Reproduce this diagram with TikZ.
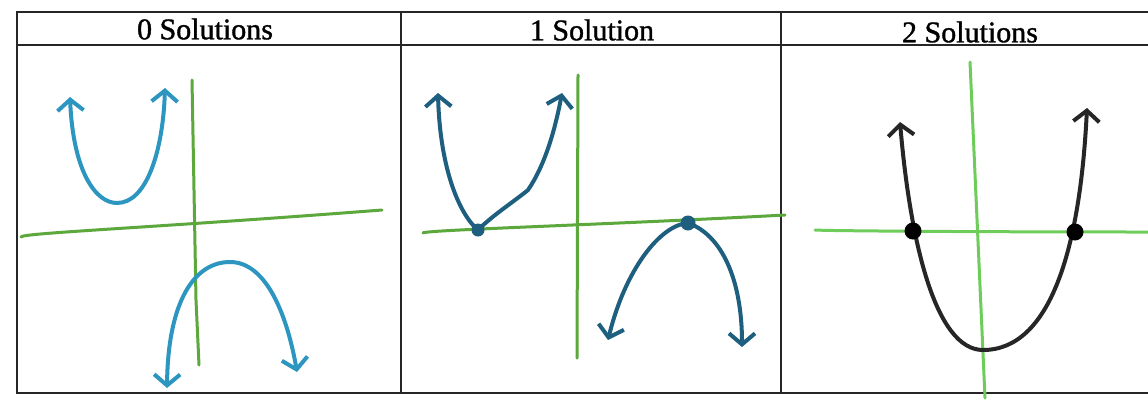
\documentclass[tikz,border=0pt]{standalone}
\usepackage{fontspec}
\setmainfont{Liberation Serif}
\usetikzlibrary{arrows.meta}
\definecolor{gA}{RGB}{92,168,60}
\definecolor{gB}{RGB}{110,205,90}
\definecolor{bA}{RGB}{45,150,192}
\definecolor{bB}{RGB}{30,95,128}
\tikzset{
  frame/.style={line width=1.8pt,black!85},
  axis/.style={line width=3pt,line cap=round},
  curve/.style={line width=4pt,line cap=round,{Straight Barb[length=11pt,width=26pt,line width=4pt]}-{Straight Barb[length=11pt,width=26pt,line width=4pt]}},
  title/.style={font=\fontsize{30}{32}\selectfont\addfontfeature{FakeBold=1.2}},
  pt/.style={circle,fill,inner sep=0pt,minimum size=#1}
}
\begin{document}
\begin{tikzpicture}[x=1pt,y=-1pt]
\useasboundingbox (0,0) rectangle (1148,400);
\clip (0,0) rectangle (1148,400);
\fill[white] (0,0) rectangle (1148,400);
% frame
\draw[frame] (1170,12) -- (17,12) -- (17,393) -- (1170,393);
\draw[frame] (17,45) -- (1170,45);
\draw[frame] (401,12) -- (401,393);
\draw[frame] (781,12) -- (781,393);
% titles
\node[title] (t0) at (205,29) {0 Solutions};
\node[title] (t1) at (592,30) {1 Solution};
\node[title] (t2) at (970,32) {2 Solutions};
% panel 1
\draw[axis,gA] (192,80) -- (196,300) -- (199,365);
\draw[axis,gA] (21,237) .. controls (21,233) and (150,228) .. (382,210);
\draw[curve,bA] (70,97) .. controls (73,170) and (95,203) .. (117,203) .. controls (147,203) and (163,150) .. (165,88);
\draw[curve,bA] (167,388) .. controls (168,300) and (195,262) .. (230,262) .. controls (268,262) and (288,320) .. (297,372);
% panel 2
\draw[axis,gA] (578,75) -- (577,358);
\draw[axis,gA] (423,233) .. controls (423,230) and (600,225) .. (785,215);
\draw[curve,bB] (438,93) .. controls (440,170) and (460,215) .. (478,230) .. controls (493,215) and (512,203) .. (528,190) .. controls (545,165) and (555,130) .. (562,93);
\draw[curve,bB] (608,340) .. controls (625,270) and (660,225) .. (688,223) .. controls (722,235) and (742,280) .. (742,347);
\node[pt=13pt,bB] (d1) at (478,230) {};
\node[pt=15pt,bB] (d2) at (688,223) {};
% panel 3
\draw[axis,gB] (970,62) -- (985,398);
\draw[axis,gB] (815,230) .. controls (830,231) and (1000,232) .. (1148,232);
\draw[curve,black!85] (900,122) .. controls (910,240) and (935,350) .. (983,350) .. controls (1050,350) and (1080,250) .. (1087,108);
\node[pt=17pt,black] (d3) at (913,231) {};
\node[pt=17pt,black] (d4) at (1075,232) {};
\end{tikzpicture}
\end{document}
